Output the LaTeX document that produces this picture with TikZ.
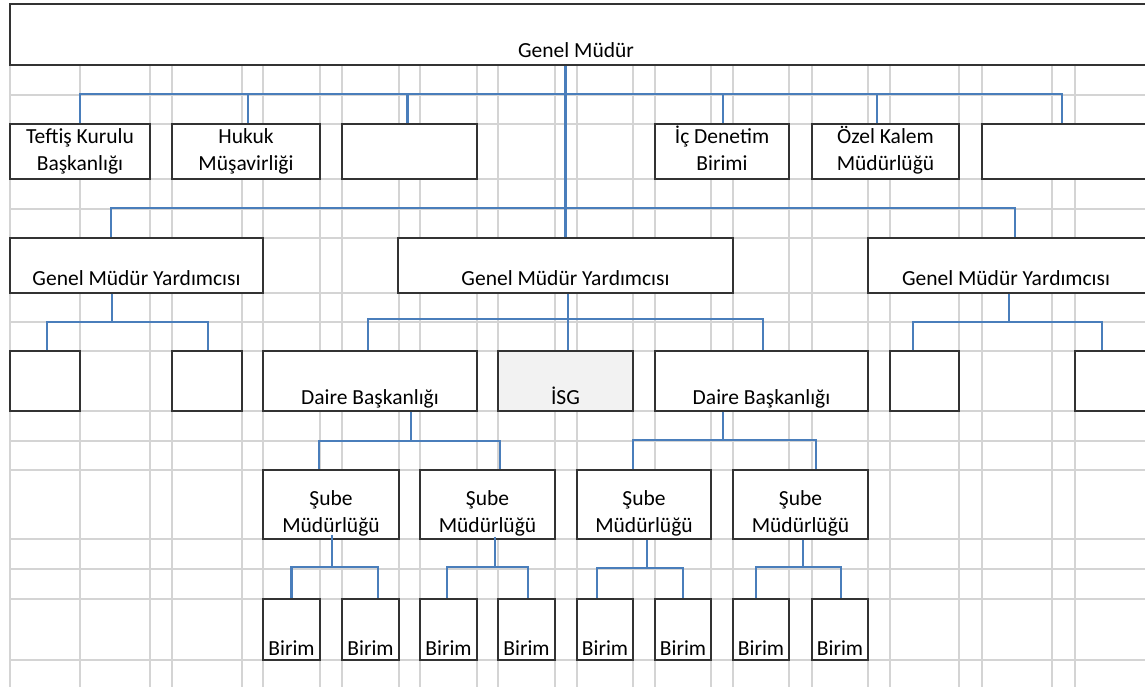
\documentclass[tikz,border=0pt]{standalone}
\usepackage{fontspec}
\setmainfont{Carlito}
\definecolor{hatmavi}{HTML}{4A7EBB}
\definecolor{izgararenk}{HTML}{D4D4D4}
\definecolor{cerceve}{HTML}{333333}
\definecolor{gri}{HTML}{F2F2F2}
\newcommand{\yazifont}{\fontsize{21.5}{27.5}\selectfont}
\newcommand{\iki}[2]{\begin{tabular}[b]{@{}c@{}}#1\\#2\end{tabular}}

\begin{document}
\begin{tikzpicture}[x=1pt,y=-1pt,
  kutu/.style 2 args={draw=cerceve, line width=1.4pt, fill=white, inner sep=0pt,
    minimum width=#1pt, minimum height=#2pt},
  yazi/.style={anchor=base, yshift=7pt, inner sep=0pt, font=\yazifont},
  baglanti/.style={draw=hatmavi, line width=2.6pt},
  izgara/.style={draw=izgararenk, line width=1.3pt}]
   \useasboundingbox (0,0) rectangle (1145,687);
   \clip (0,0) rectangle (1145,687);
   % sheet grid
   \foreach \x in {10,80,150,172,242,263,320,342,399,420,477,498,555,577,633,655,711,733,789,812,868,890,959,982,1052,1075}
     \draw[izgara] (\x,65) -- (\x,687);
   \foreach \y in {65,95,124,179,209,238,293,322,351,411,441,470,539,569,599,660}
     \draw[izgara] (10,\y) -- (1145,\y);
   % boxes
   \node[kutu={1140}{61}, label={[yazi, xshift=-4pt, yshift=1pt]south:Genel Müdür}] (gm) at (580,34.5) {};
   \node[kutu={140}{55}, label={[yazi, yshift=2pt]south:\iki{Teftiş Kurulu}{Başkanlığı}}] (tkb) at (80,151.5) {};
   \node[kutu={148}{55}, label={[yazi, yshift=2pt]south:\iki{Hukuk}{Müşavirliği}}] (hm) at (246,151.5) {};
   \node[kutu={135}{55}] (bos1) at (409.5,151.5) {};
   \node[kutu={134}{55}, label={[yazi, yshift=2pt]south:\iki{İç Denetim}{Birimi}}] (icd) at (722,151.5) {};
   \node[kutu={147}{55}, label={[yazi, yshift=2pt]south:\iki{Özel Kalem}{Müdürlüğü}}] (ozk) at (885.5,151.5) {};
   \node[kutu={168}{55}] (bos2) at (1066,151.5) {};
   \node[kutu={253}{55}, label={[yazi, yshift=1pt]south:Genel Müdür Yardımcısı}] (gmya) at (136.5,265.5) {};
   \node[kutu={335}{55}, label={[yazi, yshift=1pt]south:Genel Müdür Yardımcısı}] (gmyb) at (565.5,265.5) {};
   \node[kutu={282}{55}, label={[yazi, xshift=-3pt, yshift=1pt]south:Genel Müdür Yardımcısı}] (gmyc) at (1009,265.5) {};
   \node[kutu={70}{60}] (k1) at (45,381) {};
   \node[kutu={70}{60}] (k2) at (207,381) {};
   \node[kutu={214}{60}, label={[yazi]south:Daire Başkanlığı}] (dba) at (370,381) {};
   \node[kutu={135}{60}, fill=gri, label={[yazi]south:İSG}] (isg) at (565.5,381) {};
   \node[kutu={213}{60}, label={[yazi]south:Daire Başkanlığı}] (dbb) at (761.5,381) {};
   \node[kutu={69}{60}] (k3) at (924.5,381) {};
   \node[kutu={75}{60}] (k4) at (1112.5,381) {};
   \node[kutu={136}{69}, label={[yazi]south:\iki{Şube}{Müdürlüğü}}] (sb1) at (331,504.5) {};
   \node[kutu={135}{69}, label={[yazi]south:\iki{Şube}{Müdürlüğü}}] (sb2) at (487.5,504.5) {};
   \node[kutu={134}{69}, label={[yazi]south:\iki{Şube}{Müdürlüğü}}] (sb3) at (644,504.5) {};
   \node[kutu={135}{69}, label={[yazi]south:\iki{Şube}{Müdürlüğü}}] (sb4) at (800.5,504.5) {};
   \foreach \n/\x/\w in {1/291.5/57,2/370.5/57,3/448.5/57,4/526.5/57,5/605/56,6/683/56,7/761/56,8/840/56}
     \node[kutu={\w}{61}, label={[yazi, yshift=-2pt]south:Birim}] (b\n) at (\x,629.5) {};
   % connectors
   \coordinate (busA) at (566,94);
   \coordinate (busB) at (566,208);
   \draw[baglanti] (gmyb.north) -- (gmyb.north |- gm.south);
   \draw[baglanti] (tkb.north) |- (busA) -| ([xshift=-4pt]bos2.north);
   \foreach \n/\s in {hm/2,bos1/-2,icd/1,ozk/-8.5}
     \draw[baglanti] ([xshift=\s pt]\n.north) -- ([xshift=\s pt]\n.north |- busA);
   \draw[baglanti] ([xshift=-25.5pt]gmya.north) |- (busB) -| ([xshift=6pt]gmyc.north);
   \coordinate (busC) at (112,322);
   \draw[baglanti] ([xshift=-24.5pt]gmya.south) -- (busC);
   \draw[baglanti] ([xshift=2pt]k1.north) |- (busC) -| ([xshift=1pt]k2.north);
   \coordinate (busD) at (568,319);
   \draw[baglanti] ([xshift=2.5pt]gmyb.south) -- ([xshift=2.5pt]isg.north);
   \draw[baglanti] ([xshift=-2pt]dba.north) |- (busD) -| ([xshift=1.5pt]dbb.north);
   \coordinate (busE) at (1009,322);
   \draw[baglanti] (gmyc.south) -- (busE);
   \draw[baglanti] ([xshift=-11.5pt]k3.north) |- (busE) -| ([xshift=-10.5pt]k4.north);
   \coordinate (busF) at (411,441);
   \draw[baglanti] ([xshift=41pt]dba.south) -- (busF);
   \draw[baglanti] ([xshift=-12pt]sb1.north) |- (busF) -| ([xshift=12.5pt]sb2.north);
   \coordinate (busG) at (723,440);
   \draw[baglanti] ([xshift=-38.5pt]dbb.south) -- (busG);
   \draw[baglanti] ([xshift=-11pt]sb3.north) |- (busG) -| ([xshift=15.5pt]sb4.north);
   \coordinate (busH) at (332,567);
   \draw[baglanti] ([xshift=1pt,yshift=5pt]sb1.south) -- (busH);
   \draw[baglanti] (b1.north) |- (busH) -| ([xshift=7.5pt]b2.north);
   \coordinate (busI) at (495,567);
   \draw[baglanti] ([xshift=7.5pt,yshift=3pt]sb2.south) -- (busI);
   \draw[baglanti] ([xshift=-1.5pt]b3.north) |- (busI) -| ([xshift=1.5pt]b4.north);
   \coordinate (busJ) at (647,568);
   \draw[baglanti] ([xshift=3pt]sb3.south) -- (busJ);
   \draw[baglanti] ([xshift=-8pt]b5.north) |- (busJ) -| (b6.north);
   \coordinate (busK) at (803,567);
   \draw[baglanti] ([xshift=2.5pt]sb4.south) -- (busK);
   \draw[baglanti] ([xshift=-5pt]b7.north) |- (busK) -| ([xshift=1pt]b8.north);
\end{tikzpicture}
\end{document}
